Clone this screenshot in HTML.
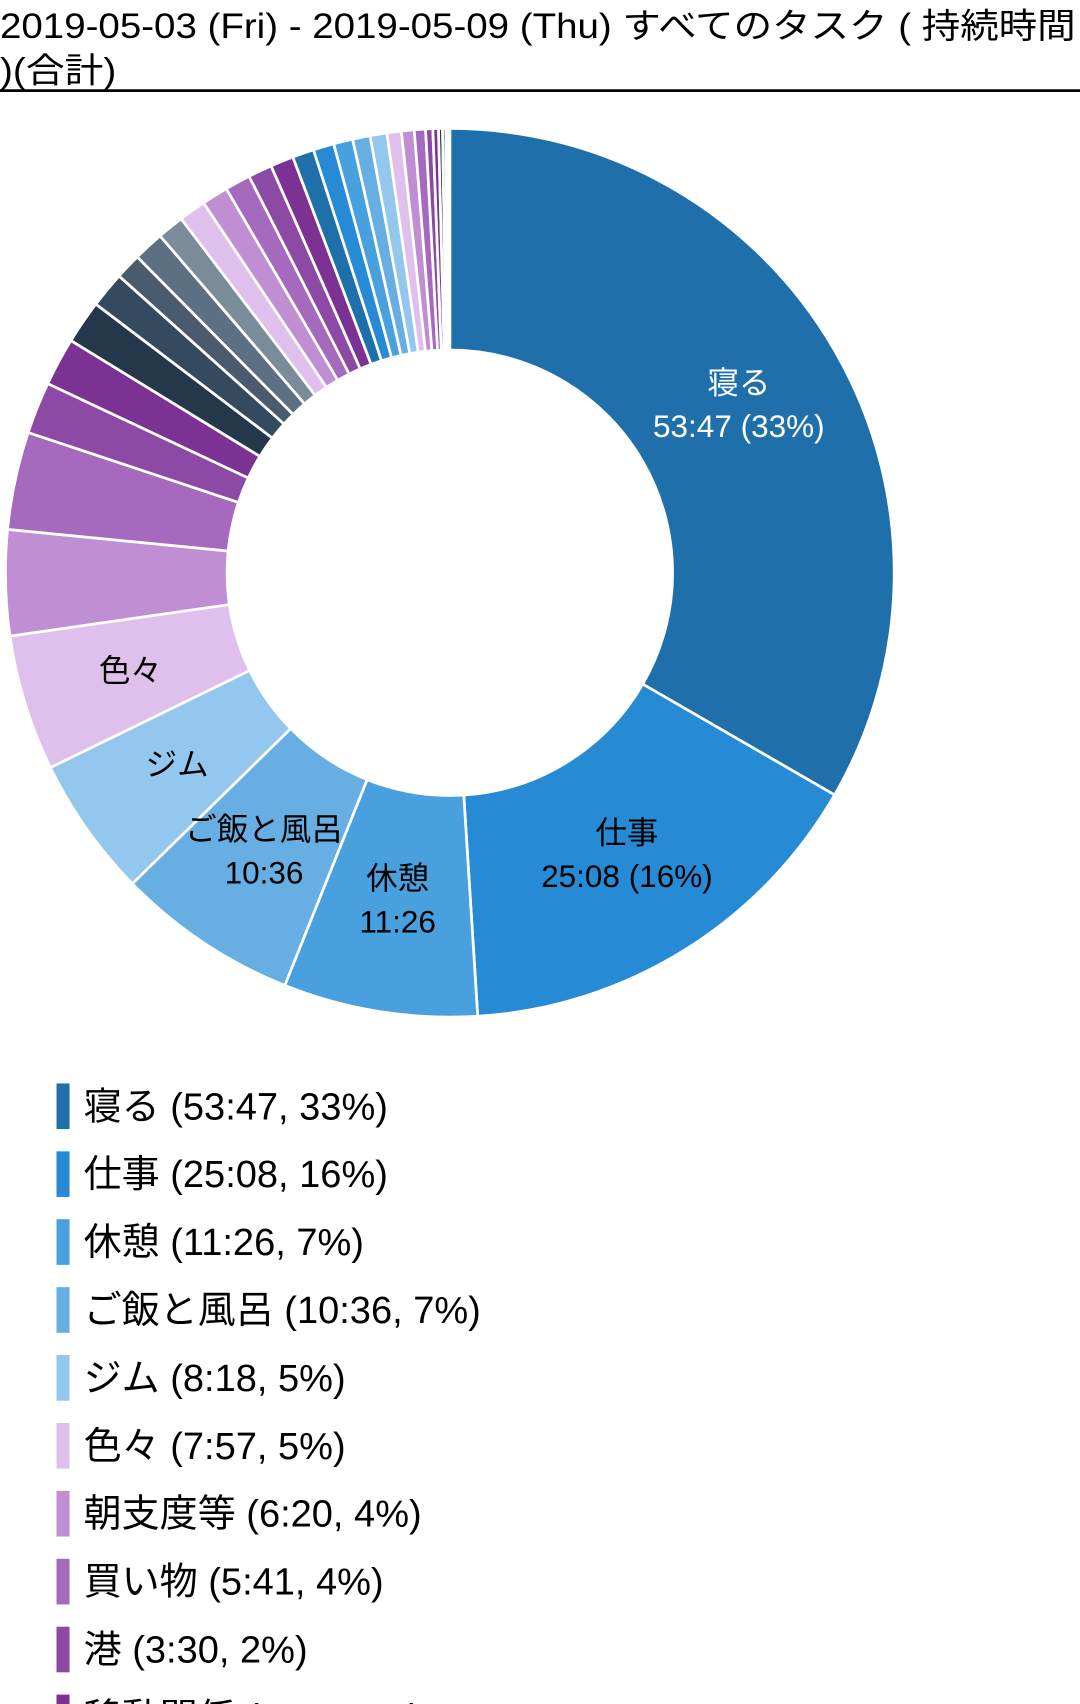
<!DOCTYPE html>
<html><head><meta charset="utf-8"><style>
html,body{margin:0;padding:0;background:#fff;}
svg{display:block;}
text{font-family:"Liberation Sans","Noto Sans CJK JP",sans-serif;}
</style></head><body>
<svg id="s" width="1080" height="1704" viewBox="0 0 994 1568" xmlns="http://www.w3.org/2000/svg">
<text x="0" y="35" font-size="32" fill="#000" textLength="990" lengthAdjust="spacingAndGlyphs">2019-05-03 (Fri) - 2019-05-09 (Thu) すべてのタスク ( 持続時間</text>
<text x="0" y="76" font-size="32" fill="#000" textLength="107" lengthAdjust="spacingAndGlyphs">)(合計)</text>
<rect x="0" y="82" width="994" height="2.5" fill="#000"/>
<g id="pie"></g>
<g font-size="29" text-anchor="middle">
<text x="680" y="362" fill="#fff">寝る</text>
<text x="680" y="402" fill="#fff">53:47 (33%)</text>
<text x="577" y="776" fill="#000">仕事</text>
<text x="577" y="816" fill="#000">25:08 (16%)</text>
<text x="366" y="818" fill="#000">休憩</text>
<text x="366" y="858" fill="#000">11:26</text>
<text x="243" y="773" fill="#000">ご飯と風呂</text>
<text x="243" y="813" fill="#000">10:36</text>
<text x="163" y="713" fill="#000">ジム</text>
<text x="120" y="627" fill="#000">色々</text>
</g>
<g id="leg" font-size="35" fill="#000"></g>
</svg>
<script>
var B=["#1F70AA","#268AD4","#48A0DF","#67AFE3","#93C7EE"],
L=["#DFC0EC","#C08FD3","#A569BD","#8C4AA4","#7B3293"],
S=["#24374B","#344A5E","#4A5B6E","#5D7083","#7A8B99"];
var bounds=[0,120,176.4,201.8,225.6,244,261.8,275.6,288.4,295.2,301.5,307.2,311.9,315.3,319.3,322.8];
var cols=B.concat(L,S);
var small=[3.4,3.3,3.2,3.0,2.9,2.7,2.6,2.4,2.2,2.1,1.8,1.6,1.4,0.9,0.7,0.5,0.4,0.3,0.2];
var sc=L.concat(B,L,S,L,B);
var sum=small.reduce(function(a,b){return a+b},0);
var cur=322.8;
small.forEach(function(v,i){cur+=v*37.2/sum;bounds.push(Math.min(cur,360));cols.push(sc[i%sc.length]);});
bounds[bounds.length-1]=360;
var cx=414,cy=527,R=409,r=205,h="";
function pt(a,rad){var t=(a-90)*Math.PI/180;return (cx+rad*Math.cos(t)).toFixed(2)+","+(cy+rad*Math.sin(t)).toFixed(2);}
for(var i=0;i<bounds.length-1;i++){
var a0=bounds[i],a1=bounds[i+1],lg=(a1-a0)>180?1:0;
h+='<path d="M'+pt(a0,R)+' A'+R+','+R+' 0 '+lg+' 1 '+pt(a1,R)+' L'+pt(a1,r)+' A'+r+','+r+' 0 '+lg+' 0 '+pt(a0,r)+' Z" fill="'+cols[i]+'" stroke="#fff" stroke-width="2.5"/>';
}
document.getElementById("pie").innerHTML=h;
var items=[["寝る (53:47, 33%)",B[0]],["仕事 (25:08, 16%)",B[1]],["休憩 (11:26, 7%)",B[2]],["ご飯と風呂 (10:36, 7%)",B[3]],["ジム (8:18, 5%)",B[4]],["色々 (7:57, 5%)",L[0]],["朝支度等 (6:20, 4%)",L[1]],["買い物 (5:41, 4%)",L[2]],["港 (3:30, 2%)",L[3]],["移動関係 (2:53, 2%)",L[4]]];
var g="";
items.forEach(function(it,i){var y=1018+i*62.5;
g+='<rect x="52" y="'+(y-21)+'" width="12" height="42" fill="'+it[1]+'"/><text x="77" y="'+(y+12)+'">'+it[0]+'</text>';});
document.getElementById("leg").innerHTML=g;
</script>
</body></html>
